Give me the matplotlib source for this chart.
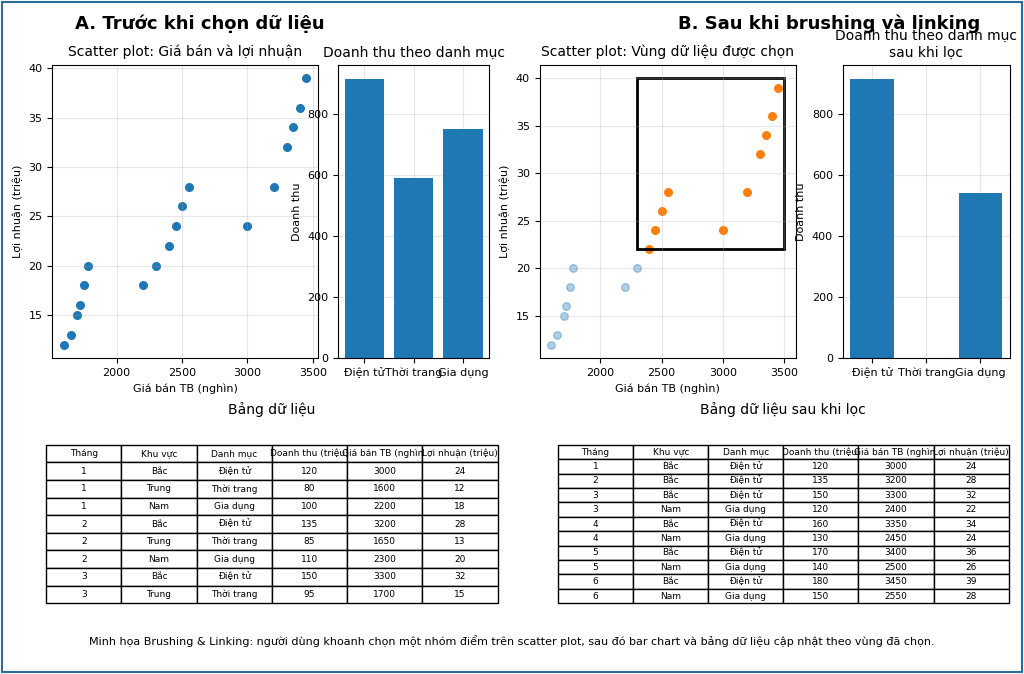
import numpy as np
import pandas as pd
import matplotlib.pyplot as plt
from matplotlib.patches import Rectangle

# Full dataset: 6 months x 3 regions
thang = [1, 1, 1, 2, 2, 2, 3, 3, 3, 4, 4, 4, 5, 5, 5, 6, 6, 6]
khu_vuc = ['Bắc', 'Trung', 'Nam'] * 6
danh_muc = ['Điện tử', 'Thời trang', 'Gia dụng'] * 6
doanh_thu = [120, 80, 100, 135, 85, 110, 150, 95, 120, 160, 100, 130, 170, 110, 140, 180, 120, 150]
gia_ban = [3000, 1600, 2200, 3200, 1650, 2300, 3300, 1700, 2400, 3350, 1720, 2450, 3400, 1750, 2500, 3450, 1780, 2550]
loi_nhuan = [24, 12, 18, 28, 13, 20, 32, 15, 22, 34, 16, 24, 36, 18, 26, 39, 20, 28]

categories = ['Điện tử', 'Thời trang', 'Gia dụng']
brush_x = (2300, 3500)
brush_y = (22, 40)

df = pd.DataFrame({
    'Tháng': thang, 'Khu vực': khu_vuc, 'Danh mục': danh_muc,
    'Doanh thu (triệu)': doanh_thu, 'Giá bán TB (nghìn)': gia_ban,
    'Lợi nhuận (triệu)': loi_nhuan,
})
sel = ((df['Giá bán TB (nghìn)'] >= brush_x[0]) & (df['Giá bán TB (nghìn)'] <= brush_x[1]) &
       (df['Lợi nhuận (triệu)'] >= brush_y[0]) & (df['Lợi nhuận (triệu)'] <= brush_y[1]))
df_sel = df[sel]

fig = plt.figure(figsize=(10.24, 6.74), dpi=100)
fig.patches.append(Rectangle((0.002, 0.003), 0.996, 0.994, transform=fig.transFigure,
                             fill=False, edgecolor='#2a6f97', linewidth=1.5))

fig.text(0.195, 0.965, 'A. Trước khi chọn dữ liệu', ha='center', va='center', fontsize=13, fontweight='bold')
fig.text(0.81, 0.965, 'B. Sau khi brushing và linking', ha='center', va='center', fontsize=13, fontweight='bold')

# A scatter
ax1 = fig.add_axes([0.051, 0.469, 0.260, 0.435])
ax1.scatter(df['Giá bán TB (nghìn)'], df['Lợi nhuận (triệu)'], color='#1f77b4', s=30)
ax1.set_title('Scatter plot: Giá bán và lợi nhuận', fontsize=10)
ax1.set_xlabel('Giá bán TB (nghìn)', fontsize=8)
ax1.set_ylabel('Lợi nhuận (triệu)', fontsize=8)
ax1.grid(alpha=0.3)
ax1.tick_params(labelsize=8)

# A bar
ax2 = fig.add_axes([0.330, 0.469, 0.148, 0.435])
tot = df.groupby('Danh mục')['Doanh thu (triệu)'].sum().reindex(categories)
ax2.bar(categories, tot.values, color='#1f77b4')
ax2.set_title('Doanh thu theo danh mục', fontsize=10)
ax2.set_ylabel('Doanh thu', fontsize=8)
ax2.grid(alpha=0.3)
ax2.set_axisbelow(True)
ax2.tick_params(labelsize=8)

# B scatter
ax3 = fig.add_axes([0.527, 0.469, 0.250, 0.435])
ax3.scatter(df.loc[~sel, 'Giá bán TB (nghìn)'], df.loc[~sel, 'Lợi nhuận (triệu)'], color='#1f77b4', alpha=0.35, s=30)
ax3.scatter(df_sel['Giá bán TB (nghìn)'], df_sel['Lợi nhuận (triệu)'], color='#ff7f0e', s=30)
ax3.add_patch(Rectangle((brush_x[0], brush_y[0]), brush_x[1] - brush_x[0], brush_y[1] - brush_y[0],
                        fill=False, edgecolor='black', linewidth=2))
ax3.set_title('Scatter plot: Vùng dữ liệu được chọn', fontsize=10)
ax3.set_xlabel('Giá bán TB (nghìn)', fontsize=8)
ax3.set_ylabel('Lợi nhuận (triệu)', fontsize=8)
ax3.grid(alpha=0.3)
ax3.tick_params(labelsize=8)

# B bar
ax4 = fig.add_axes([0.823, 0.469, 0.163, 0.435])
tot_sel = df_sel.groupby('Danh mục')['Doanh thu (triệu)'].sum().reindex(categories).fillna(0)
ax4.bar(categories, tot_sel.values, color='#1f77b4')
ax4.set_title('Doanh thu theo danh mục\nsau khi lọc', fontsize=10)
ax4.set_ylabel('Doanh thu', fontsize=8)
ax4.grid(alpha=0.3)
ax4.set_axisbelow(True)
ax4.tick_params(labelsize=8)

# Tables
cols = list(df.columns)
for rect, data, title in [([0.045, 0.105, 0.441, 0.235], df.head(8), 'Bảng dữ liệu'),
                          ([0.545, 0.105, 0.440, 0.235], df_sel, 'Bảng dữ liệu sau khi lọc')]:
    ax = fig.add_axes(rect)
    ax.axis('off')
    ax.set_title(title, fontsize=10, pad=22)
    t = ax.table(cellText=data.astype(str).values, colLabels=cols, loc='upper center',
                 cellLoc='center', bbox=[0, 0, 1, 1])
    t.auto_set_font_size(False)
    t.set_fontsize(6.5)

fig.text(0.5, 0.043, 'Minh họa Brushing & Linking: người dùng khoanh chọn một nhóm điểm trên scatter plot, '
         'sau đó bar chart và bảng dữ liệu cập nhật theo vùng đã chọn.', ha='center', fontsize=8)

fig.savefig('out.png', dpi=100)
